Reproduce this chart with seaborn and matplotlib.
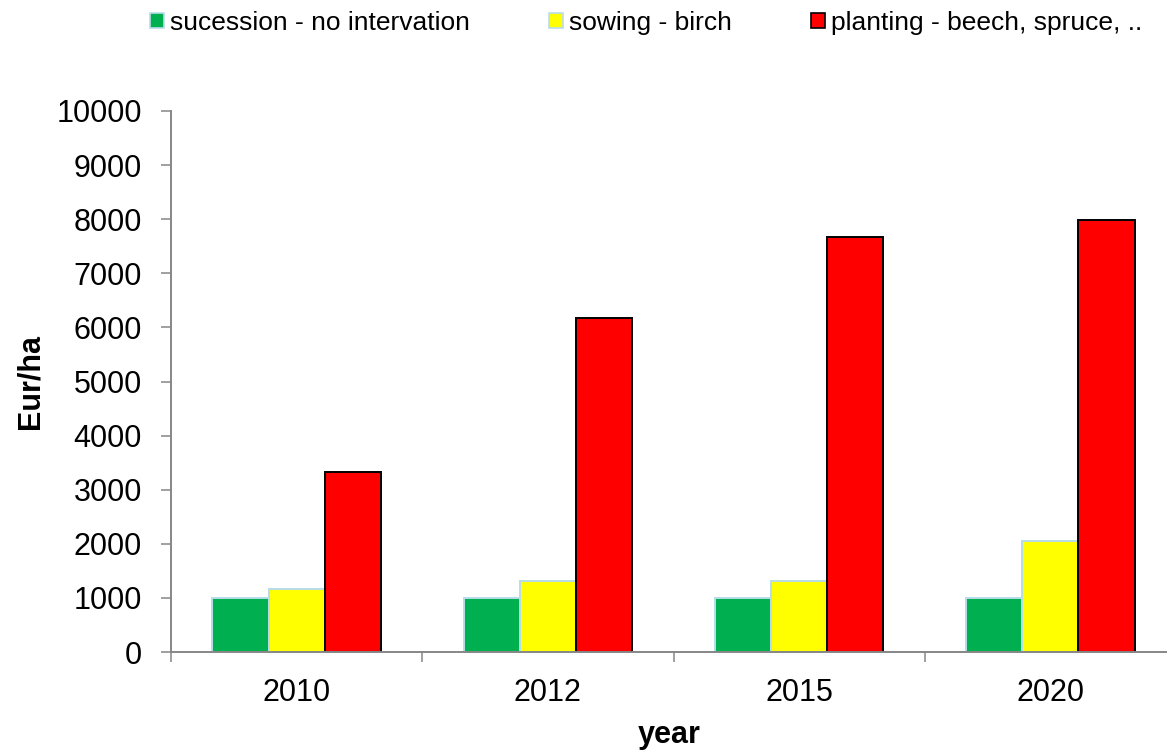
import pandas as pd
import numpy as np
import matplotlib
matplotlib.use("Agg")
import matplotlib.pyplot as plt
import seaborn as sns

# chart values
years = ["2010", "2012", "2015", "2020"]
methods = ["sucession - no intervation", "sowing - birch", "planting - beech, spruce, .."]
succession = [1000, 1000, 1000, 1000]
sowing = [1160, 1310, 1310, 2050]
planting = [3330, 6170, 7670, 7980]

df = pd.DataFrame({
    "year": years * 3,
    "method": [methods[0]] * 4 + [methods[1]] * 4 + [methods[2]] * 4,
    "cost": succession + sowing + planting,
})

sns.set_style("white")
plt.rcParams["font.family"] = ["Liberation Sans", "DejaVu Sans"]
plt.rcParams["text.color"] = "black"
plt.rcParams["axes.labelcolor"] = "black"
plt.rcParams["xtick.labelcolor"] = "black"
plt.rcParams["ytick.labelcolor"] = "black"

colors = ["#00b050", "#ffff00", "#ff0000"]
edges = ["#b7dde8", "#b7dde8", "#000000"]
grey = "#868686"

fig = plt.figure(figsize=(11.67, 7.52), dpi=100)
ax = fig.add_axes([171 / 1167, 100 / 752, 996 / 1167, 541 / 752])

sns.barplot(data=df, x="year", y="cost", hue="method", palette=colors,
            width=0.67, saturation=1, ax=ax, legend=False)

for cont, ec in zip(ax.containers, edges):
    for bar in cont:
        bar.set_edgecolor(ec)
        bar.set_linewidth(1.4)

ax.set_ylim(0, 10000)
ax.set_xlim(-0.5, 3.5 - 9 / 251)
ax.set_yticks(np.arange(0, 10001, 1000))
ax.set_xticks([-0.5, 0.5, 1.5, 2.5], minor=True)
ax.tick_params(axis="x", which="major", bottom=True, length=0, labelsize=22, pad=19)
ax.tick_params(axis="x", which="minor", bottom=True, length=7, width=1.1, color=grey, direction="out")
ax.tick_params(axis="y", left=True, length=7, width=1.1, color=grey, direction="out", labelsize=22, pad=14)

for side in ["top", "right"]:
    ax.spines[side].set_visible(False)
for side in ["left", "bottom"]:
    ax.spines[side].set_color(grey)
    ax.spines[side].set_linewidth(1.4)

ax.set_xlabel("year", fontsize=22, fontweight="bold", labelpad=8)
ax.set_ylabel("Eur/ha", fontsize=22, fontweight="bold", labelpad=7.5)

handles = [plt.Rectangle((0, 0), 1, 1, facecolor=c, edgecolor=e, linewidth=1.2)
           for c, e in zip(colors, edges)]
fig.legend(handles, methods, loc="center left", bbox_to_anchor=(150 / 1167, 1 - 23 / 752),
           ncol=3, frameon=False, fontsize=19, handlelength=0.53, handleheight=0.53,
           handletextpad=0.23, columnspacing=3.0, borderaxespad=0, borderpad=0)

fig.savefig("out.png", dpi=100)
